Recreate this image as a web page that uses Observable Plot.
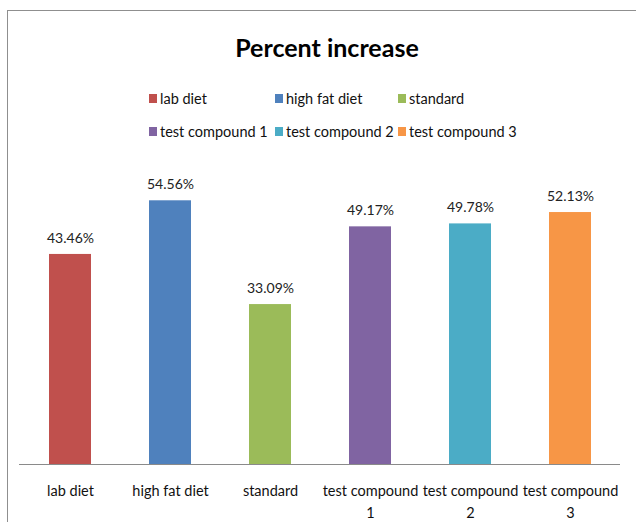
<!DOCTYPE html>
<html>
<head>
<meta charset="utf-8">
<script src="https://cdn.jsdelivr.net/npm/d3@7"></script>
<script src="https://cdn.jsdelivr.net/npm/@observablehq/plot@0.6"></script>
<style>
  body { margin: 0; background: #fff; width: 636px; height: 522px; overflow: hidden; position: relative; font-family: Lato, "Open Sans", sans-serif; }
  #frame { position: absolute; left: 7px; top: 10px; width: 700px; height: 600px; border: 1.5px solid #8f8f8f; box-sizing: border-box; }
  #title { position: absolute; left: 0; width: 654px; top: 35px; line-height: 25px; text-align: center; font-weight: bold; font-size: 25px; color: #000; }
  #legend { position: absolute; left: 0; top: 0; }
  .item { position: absolute; display: flex; align-items: center; height: 16px; font-size: 14.5px; color: #111; white-space: nowrap; }
  .sw { width: 8px; height: 9px; margin-right: 3px; }
  #chart { position: absolute; left: 0; top: 150px; }
</style>
</head>
<body>
<div id="frame"></div>
<div id="title">Percent increase</div>
<div id="legend"></div>
<div id="chart"></div>
<script>
// Groups, their percent increase, and the series colours
const categories = ["lab diet", "high fat diet", "standard", "test compound 1", "test compound 2", "test compound 3"];
const values = [43.46, 54.56, 33.09, 49.17, 49.78, 52.13];
const colors = ["#C0504D", "#4F81BD", "#9BBB59", "#8064A2", "#4BACC6", "#F79646"];

const data = categories.map((c, i) => ({category: c, value: values[i]}));

// Legend: two rows of three entries
const legend = document.getElementById("legend");
const colX = [149, 275, 398];
const rowY = [90, 123];
categories.forEach((c, i) => {
  const item = document.createElement("div");
  item.className = "item";
  item.style.left = colX[i % 3] + "px";
  item.style.top = rowY[Math.floor(i / 3)] + "px";
  const sw = document.createElement("span");
  sw.className = "sw";
  sw.style.background = colors[i];
  item.appendChild(sw);
  item.appendChild(document.createTextNode(c));
  legend.appendChild(item);
});

const chart = Plot.plot({
  width: 636,
  height: 372,
  marginTop: 24,
  marginBottom: 58,
  marginLeft: 19,
  marginRight: 16,
  style: {fontFamily: "Lato, 'Open Sans', sans-serif", fontSize: "14px", background: "transparent", color: "#111", overflow: "visible"},
  x: {domain: categories, paddingInner: 0.58, paddingOuter: 0.29, label: null, axis: null},
  y: {domain: [0, 60], axis: null},
  color: {domain: categories, range: colors},
  marks: [
    Plot.barY(data, {x: "category", y: "value", fill: "category"}),
    Plot.ruleY([0], {stroke: "#8a8a8a", strokeWidth: 1.2}),
    Plot.text(data, {x: "category", y: "value", text: d => d.value.toFixed(2) + "%", dy: -16, fontSize: 14, fill: "#222"}),
    Plot.axisX({
      domain: categories,
      tickSize: 0,
      tickPadding: 16,
      fontSize: 14.5,
      lineHeight: 1.5,
      fill: "#111",
      label: null,
      tickFormat: d => d.replace(/ (\d)$/, "\n$1")
    })
  ]
});
document.getElementById("chart").appendChild(chart);
</script>
</body>
</html>
